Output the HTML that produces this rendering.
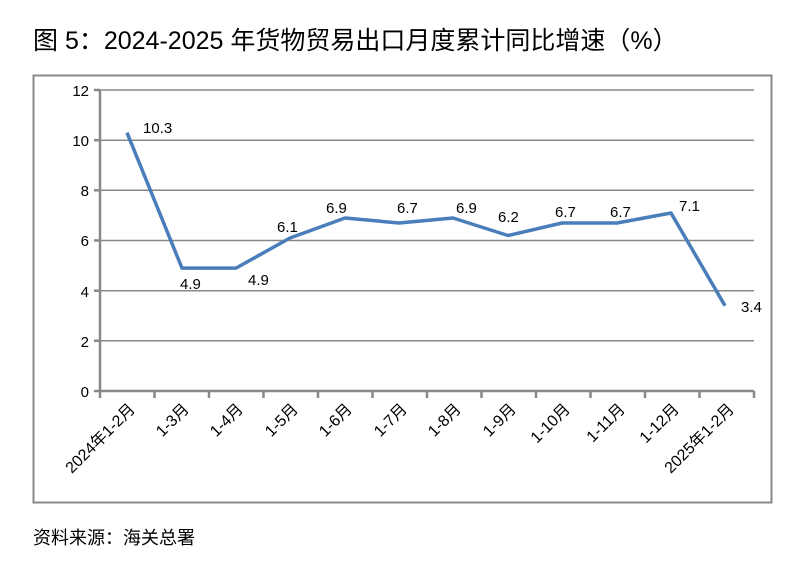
<!DOCTYPE html>
<html><head><meta charset="utf-8"><style>
body{margin:0;background:#fff;width:802px;height:558px;overflow:hidden}
svg text{font-family:"Liberation Sans","Noto Sans CJK SC",sans-serif}
</style></head><body>
<svg width="802" height="558" viewBox="0 0 802 558">
<text x="33" y="49" font-size="25" fill="#000">图 5：2024-2025 年货物贸易出口月度累计同比增速（%）</text>
<rect x="33.5" y="75.5" width="738" height="427" fill="none" stroke="#888" stroke-width="2"/>
<g stroke="#888" stroke-width="1.5">
<line x1="100" y1="90" x2="754" y2="90"/>
<line x1="100" y1="140.2" x2="754" y2="140.2"/>
<line x1="100" y1="190.3" x2="754" y2="190.3"/>
<line x1="100" y1="240.5" x2="754" y2="240.5"/>
<line x1="100" y1="290.7" x2="754" y2="290.7"/>
<line x1="100" y1="340.8" x2="754" y2="340.8"/>
</g>
<g stroke="#888" stroke-width="2.5">
<line x1="100" y1="90" x2="100" y2="391"/>
<line x1="94" y1="391" x2="754" y2="391"/>
<line x1="94" y1="90" x2="100" y2="90"/><line x1="94" y1="140.2" x2="100" y2="140.2"/><line x1="94" y1="190.3" x2="100" y2="190.3"/><line x1="94" y1="240.5" x2="100" y2="240.5"/><line x1="94" y1="290.7" x2="100" y2="290.7"/><line x1="94" y1="340.8" x2="100" y2="340.8"/>
<line x1="100" y1="391" x2="100" y2="398"/><line x1="154.5" y1="391" x2="154.5" y2="398"/><line x1="209" y1="391" x2="209" y2="398"/><line x1="263.5" y1="391" x2="263.5" y2="398"/><line x1="318" y1="391" x2="318" y2="398"/><line x1="372.5" y1="391" x2="372.5" y2="398"/><line x1="427" y1="391" x2="427" y2="398"/><line x1="481.5" y1="391" x2="481.5" y2="398"/><line x1="536" y1="391" x2="536" y2="398"/><line x1="590.5" y1="391" x2="590.5" y2="398"/><line x1="645" y1="391" x2="645" y2="398"/><line x1="699.5" y1="391" x2="699.5" y2="398"/><line x1="754" y1="391" x2="754" y2="398"/>
</g>
<g font-size="15" text-anchor="end" fill="#000">
<text x="89" y="96">12</text><text x="89" y="146">10</text><text x="89" y="196">8</text><text x="89" y="246">6</text><text x="89" y="297">4</text><text x="89" y="347">2</text><text x="89" y="397">0</text>
</g>
<g font-size="16" text-anchor="end" fill="#000">
<text transform="translate(136,410) rotate(-45)">2024年1-2月</text>
<text transform="translate(190,410) rotate(-45)">1-3月</text>
<text transform="translate(244,410) rotate(-45)">1-4月</text>
<text transform="translate(299,410) rotate(-45)">1-5月</text>
<text transform="translate(353,410) rotate(-45)">1-6月</text>
<text transform="translate(408,410) rotate(-45)">1-7月</text>
<text transform="translate(462,410) rotate(-45)">1-8月</text>
<text transform="translate(517,410) rotate(-45)">1-9月</text>
<text transform="translate(571,410) rotate(-45)">1-10月</text>
<text transform="translate(626,410) rotate(-45)">1-11月</text>
<text transform="translate(680,410) rotate(-45)">1-12月</text>
<text transform="translate(735,410) rotate(-45)">2025年1-2月</text>
</g>
<polyline fill="none" stroke="#4A7EBB" stroke-width="3.5" stroke-linejoin="round" points="127,132.7 182,268.1 236,268.1 290,238 345,218 399,223 453,218 508,235.5 562,223 617,223 671,213 725,305.7"/>
<g font-size="15" fill="#000">
<text x="143" y="133">10.3</text>
<text x="180" y="289">4.9</text>
<text x="248" y="285">4.9</text>
<text x="277" y="232">6.1</text>
<text x="326" y="213">6.9</text>
<text x="397" y="213">6.7</text>
<text x="456" y="213">6.9</text>
<text x="498" y="222">6.2</text>
<text x="555" y="217">6.7</text>
<text x="610" y="217">6.7</text>
<text x="679" y="211">7.1</text>
<text x="741" y="312">3.4</text>
</g>
<text x="33" y="544" font-size="18" fill="#000">资料来源：海关总署</text>
</svg>
</body></html>
